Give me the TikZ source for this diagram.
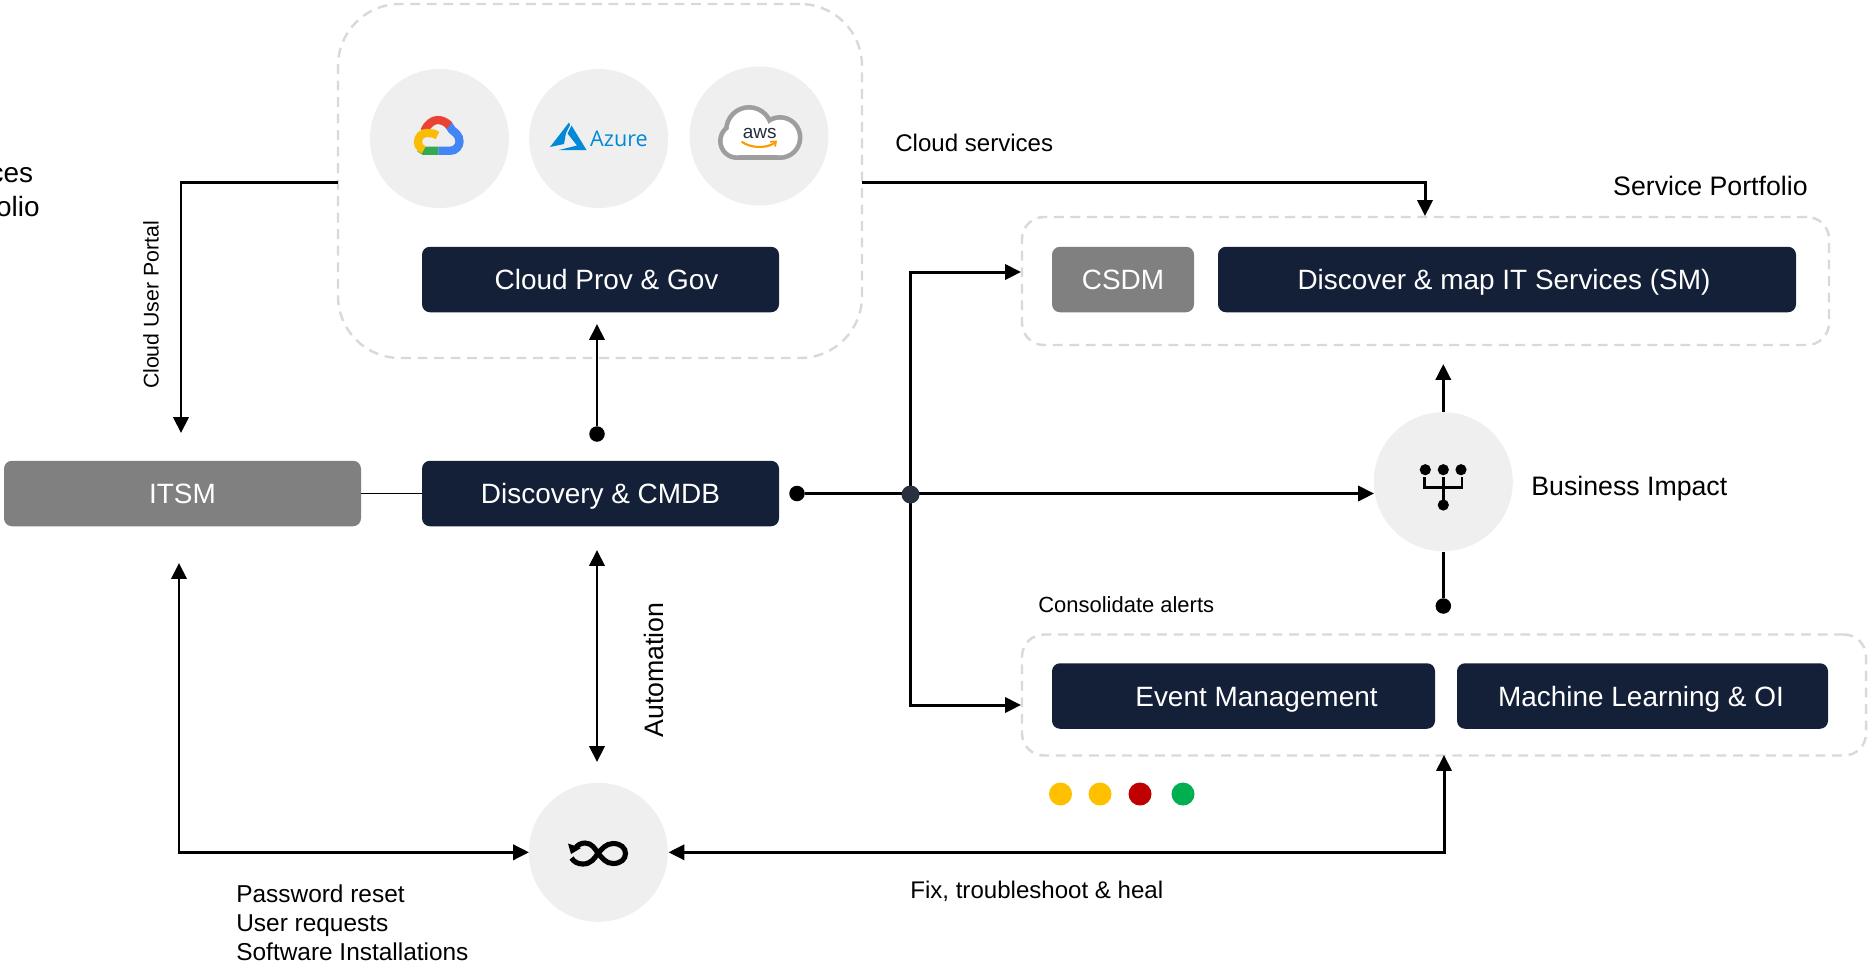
\documentclass[tikz,border=0pt]{standalone}
\usepackage{fontspec}
\setmainfont{Liberation Sans}
\newfontfamily\azurefont{Open Sans}
\usetikzlibrary{arrows.meta}
\def\pxu{0.02cm}
\definecolor{navy}{HTML}{141F38}
\definecolor{midgray}{HTML}{808080}
\definecolor{disc}{HTML}{EFEFEF}
\definecolor{dashc}{HTML}{D9D9D9}
\definecolor{junction}{HTML}{2B3040}
\definecolor{azureblue}{HTML}{0089D6}
\definecolor{amber}{HTML}{FFC000}
\definecolor{darkred}{HTML}{C00000}
\definecolor{okgreen}{HTML}{00B050}
\definecolor{gyellow}{HTML}{FBBC05}
\definecolor{ggreen}{HTML}{34A853}
\definecolor{gblue}{HTML}{4285F4}
\definecolor{gred}{HTML}{EA4335}
\definecolor{awsorange}{HTML}{FF9900}
\definecolor{awsink}{HTML}{232F3E}
\definecolor{awsgray}{HTML}{9E9E9E}
\newcommand{\fs}[1]{\fontsize{#1}{#1}\selectfont}
\tikzset{
  tipped/.style={line width=1.7pt,-{Triangle[length=9pt,width=8.6pt]}},
  tippedboth/.style={line width=1.7pt,{Triangle[length=9pt,width=8.6pt]}-{Triangle[length=9pt,width=8.6pt]}},
  plainline/.style={line width=1.7pt},
  blob/.style={circle,fill=black,inner sep=0pt,minimum size=15.5*\pxu},
  disk/.style={circle,fill=disc,inner sep=0pt,minimum size=139*\pxu},
  bluebox/.style={rectangle,rounded corners=8*\pxu,fill=navy,text=white,inner sep=0pt,font=\fs{15.9},minimum height=65.5*\pxu,text height=11.4pt,text depth=0pt},
  graybox/.style={bluebox,fill=midgray},
  dashbox/.style={rectangle,draw=dashc,line width=1.4pt,dash pattern=on 5.6pt off 3.8pt,inner sep=0pt},
  lamp/.style={circle,inner sep=0pt,minimum size=23*\pxu},
  caption/.style={inner sep=0pt,text=black},
}
\begin{document}
\begin{tikzpicture}[x=0.02cm,y=0.02cm,yscale=-1]
\useasboundingbox (0,0) rectangle (1870,965);

% dashed containers
\node[dashbox,rounded corners=62*\pxu,minimum width=524*\pxu,minimum height=354*\pxu] (cloudbox) at (600,181) {};
\node[dashbox,rounded corners=22*\pxu,minimum width=807*\pxu,minimum height=128*\pxu] (svcbox) at (1425.5,281) {};
\node[dashbox,rounded corners=22*\pxu,minimum width=844*\pxu,minimum height=121*\pxu] (evtbox) at (1444,695) {};

% discs
\node[disk] (gcp) at (439.5,138.5) {};
\node[disk] (azure) at (598.7,138.5) {};
\node[disk] (aws) at (759,136) {};
\node[disk] (impact) at (1443.3,481.7) {};
\node[disk] (loop) at (598.3,852.3) {};

% boxes
\node[bluebox,minimum width=357*\pxu] (prov) at (600.5,279.5) {\hspace*{0.24cm}Cloud Prov \& Gov};
\node[graybox,minimum width=357*\pxu] (itsm) at (182.5,493.5) {ITSM};
\node[bluebox,minimum width=357*\pxu] (cmdb) at (600.5,493.5) {Discovery \& CMDB};
\node[graybox,minimum width=142*\pxu] (csdm) at (1123,279.5) {CSDM};
\node[bluebox,minimum width=578*\pxu] (smap) at (1507,279.5) {Discover \& map IT Services (SM)\hspace*{0.12cm}};
\node[bluebox,minimum width=383*\pxu] (evt) at (1243.5,696) {\hspace*{0.52cm}Event Management};
\node[bluebox,minimum width=371*\pxu] (ml) at (1642.5,696) {Machine Learning \& OI\hspace*{0.06cm}};

% lamps
\node[lamp,fill=amber] (l1) at (1060.5,794) {};
\node[lamp,fill=amber] (l2) at (1100,794) {};
\node[lamp,fill=darkred] (l3) at (1140,794) {};
\node[lamp,fill=okgreen] (l4) at (1183,794) {};

% connector ends
\coordinate (portalA) at (338,182);
\coordinate (portalB) at (181,182);
\coordinate (portalC) at (181,433);
\coordinate (svcA) at (862,182);
\coordinate (svcB) at (1425,182);
\coordinate (svcC) at (1425,216);
\coordinate (provTip) at (597,324);
\coordinate (impactTip) at (1374,493.5);
\coordinate (svcIn) at (1021,272);
\coordinate (evtIn) at (1021,705);
\coordinate (upTop) at (1443.3,364);
\coordinate (autoA) at (597,550);
\coordinate (autoB) at (597,762);
\coordinate (itsmA) at (179,563);
\coordinate (itsmB) at (179,852.3);
\coordinate (loopL) at (529,852.3);
\coordinate (loopR) at (668.5,852.3);
\coordinate (evtB) at (1444,852.3);
\coordinate (evtT) at (1444,755);
\coordinate (hub) at (910.5,494.5);

% dots
\node[blob] (dotProv) at (597,434) {};
\node[blob] (dotCmdb) at (797,493.5) {};
\node[blob] (dotEvt) at (1443.3,606) {};

% connectors
\draw[line width=.6pt] (itsm.east) -- (cmdb.west);
\draw[tipped] (portalA) -- (portalB) -- (portalC);
\draw[tipped] (svcA) -- (svcB) -- (svcC);
\draw[tipped] (dotProv) -- (provTip);
\draw[tipped] (dotCmdb) -- (impactTip);
\draw[tipped] (hub) |- (svcIn);
\draw[tipped] (hub) |- (evtIn);
\draw[tipped] (impact.north) -- (upTop);
\draw[plainline] (impact.south) -- (dotEvt);
\draw[tippedboth] (autoA) -- (autoB);
\draw[tippedboth] (itsmA) -- (itsmB) -- (loopL);
\draw[tippedboth] (loopR) -- (evtB) -- (evtT);
\node[circle,fill=junction,inner sep=0pt,minimum size=18*\pxu] (hubdot) at (hub) {};

% labels
\node[caption,font=\fs{15.9},anchor=east] (lbA) at (33.5,175.5) {ces};
\node[caption,font=\fs{15.9},anchor=east] (lbB) at (40,207) {olio};
\node[caption,font=\fs{12.1},rotate=90] (lbPortal) at (151,305) {Cloud User Portal};
\node[caption,font=\fs{13.7},anchor=west] (lbCloud) at (895,143) {Cloud services};
\node[caption,font=\fs{15.2},anchor=east] (lbPortfolio) at (1808,186) {Service Portfolio};
\node[caption,font=\fs{15.2},anchor=west] (lbImpact) at (1531,488.5) {Business Impact};
\node[caption,font=\fs{12.5},anchor=west] (lbAlerts) at (1038,605) {Consolidate alerts};
\node[caption,font=\fs{15.2},rotate=90] (lbAuto) at (654,670) {Automation};
\node[caption,font=\fs{13.7},anchor=west] (lbFix) at (910,891) {Fix, troubleshoot \& heal};
\node[caption,font=\fontsize{13.9}{16.6}\selectfont,anchor=north west,align=left] (lbReq) at (236,884) {Password reset\\User requests\\Software Installations};

% impact icon
\foreach \px/\py in {1425.3/469.7,1443.3/469.7,1461/469.7,1443.3/505}
  \fill (\px,\py) circle[radius=5.6*\pxu];
\draw[line width=1.4pt] (1424.5,477) -- (1424.5,487.7) -- (1462,487.7) -- (1462,477);
\draw[line width=1.4pt] (1443.3,477) -- (1443.3,500);

% loop icon
\draw[line width=2.9pt]
  (575,849) .. controls (577,845) and (581,843) .. (585,843)
  .. controls (592,843) and (595,849) .. (598,853)
  .. controls (602,858) and (606,863.5) .. (613,863.5)
  .. controls (621,863.5) and (625.5,859) .. (625.5,853.5)
  .. controls (625.5,848) and (621,843.5) .. (613,843.5)
  .. controls (606,843.5) and (602,849) .. (598,853)
  .. controls (595,858) and (591,864) .. (583,864)
  .. controls (578,864) and (574,862) .. (571.5,858);
\fill (568,843.5) -- (581,848) -- (571,854) -- cycle;

% google cloud logo
\begin{scope}[line width=4.7pt]
  \draw[color=gblue] (438.3,150.8) -- (450,150.8)
    .. controls (456,150.8) and (459.5,146) .. (459.5,141.5)
    .. controls (459.5,135) and (455,132.5) .. (452,130) -- (448,124);
  \draw[color=ggreen] (419.5,148) -- (424,150.8) -- (438.3,150.8);
  \draw[color=gred] (424.5,131) .. controls (427,124) and (433,120) .. (437.5,120)
    .. controls (442,120) and (446,122) .. (449.5,125.5);
  \draw[color=gyellow] (437.5,135.5) -- (433.5,133.5) -- (426.7,133)
    arc[start angle=-90,end angle=-250,radius=8.7*\pxu];
\end{scope}

% azure logo
\fill[azureblue] (569,122.5) -- (550,147) -- (564,144) -- (566,133) -- (570,125) -- cycle;
\fill[azureblue] (571.5,125.5) -- (586.5,150) -- (559,150) -- (577,145.5) -- (567.5,133.5) -- cycle;
\node[caption,text=azureblue,font=\azurefont\fs{12.3},anchor=base] (azuretxt) at (619,146.7) {Azure};

% aws logo
\fill[awsgray] (737,141) circle[radius=19*\pxu];
\fill[awsgray] (749,130) circle[radius=25*\pxu];
\fill[awsgray] (780,137.5) circle[radius=22.5*\pxu];
\fill[awsgray] (737,140) rectangle (780,160);
\fill[white] (737,141) circle[radius=14.3*\pxu];
\fill[white] (749,130) circle[radius=20.3*\pxu];
\fill[white] (780,137.5) circle[radius=17.8*\pxu];
\fill[white] (737,135) rectangle (780,155.3);
\node[caption,text=awsink,font=\fs{10.8},anchor=base] (awstxt) at (759.7,138.3) {aws};
\draw[color=awsorange,line width=1.2pt] (741.7,141.7) .. controls (750,148) and (766,149) .. (775,142.7);
\draw[color=awsorange,line width=1pt] (770,141.7) -- (776,141.5) -- (775,146.5);
\end{tikzpicture}
\end{document}
